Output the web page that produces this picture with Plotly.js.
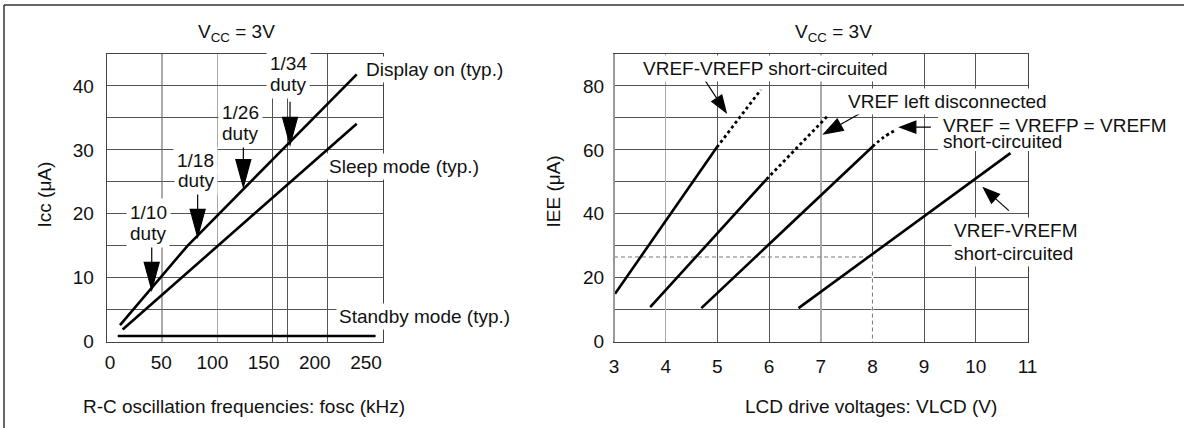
<!DOCTYPE html>
<html><head><meta charset="utf-8">
<script src="https://cdn.plot.ly/plotly-3.0.1.min.js"></script>
<style>html,body{margin:0;padding:0;background:#fff}#chart{width:1184px;height:428px}</style>
</head><body><div id="chart"></div>
<script>
// ---------- Left panel: Icc vs R-C oscillation frequency (VCC = 3V) ----------
const displayOnFosc = [12, 73, 226];
const displayOnIcc  = [2.6, 15, 41.8];
const sleepFosc = [14.4, 226];
const sleepIcc  = [1.9, 34.1];
const standbyFosc = [10, 243];
const standbyIcc  = [0.9, 0.9];
const foscTicks = [0, 50, 100, 150, 200, 250];
const iccTicks  = [0, 10, 20, 30, 40];
const dutyLabels = ['1/10', '1/18', '1/26', '1/34'];
const dutyFosc = [40.7, 82.2, 123.5, 165.7];
const dutyIcc  = [8.1, 16.4, 24.2, 30.8];

// ---------- Right panel: IEE vs LCD drive voltage (VCC = 3V) ----------
const vrefpSolidV = [3.02, 4.99];  const vrefpSolidI = [15, 60.8];
const vrefpDotV   = [4.99, 5.84];  const vrefpDotI   = [60.8, 78.8];
const discSolidV  = [3.70, 5.95];  const discSolidI  = [10.8, 50.8];
const discDotV    = [5.95, 7.15];  const discDotI    = [50.8, 70.9];
const allSolidV   = [4.69, 8.0];   const allSolidI   = [10.5, 61];
const allDotV     = [8.0, 8.22, 8.47]; const allDotI = [61, 64, 66.4];
const vrefmV      = [6.57, 10.67]; const vrefmI      = [10.5, 59];
const guideV = [3, 8, 8];          const guideI = [26.5, 26.5, 0];
const vlcdTicks = [3, 4, 5, 6, 7, 8, 9, 10, 11];
const ieeTicks  = [0, 20, 40, 60, 80];

const W = 1184, H = 428;
const FONT = 'Liberation Sans, Arial, Helvetica, sans-serif';
const GRID = '#555', LIGHT = '#aaa', AXL = '#444', TXT = '#111';
const px = x => x / W, py = y => 1 - y / H;

function line(x, y, xa, ya, extra) {
  return Object.assign({x, y, xaxis: xa, yaxis: ya, mode: 'lines', hoverinfo: 'skip',
    showlegend: false, line: {color: '#000', width: 2.6}}, extra || {});
}
const traces = [
  line(displayOnFosc, displayOnIcc, 'x', 'y'),
  line(sleepFosc, sleepIcc, 'x', 'y'),
  line(standbyFosc, standbyIcc, 'x', 'y'),
  {x: [], y: [], xaxis: 'x3', yaxis: 'y', mode: 'lines', showlegend: false},
  {x: [], y: [], xaxis: 'x4', yaxis: 'y2', mode: 'lines', showlegend: false},
  // white mask so the guide's lower vertical part shows as dashed only
  line(guideV.slice(1), guideI.slice(1), 'x2', 'y2', {line: {color: '#fff', width: 2}}),
  line(guideV, guideI, 'x2', 'y2', {line: {color: '#777', width: 1, dash: '4px,3px'}}),
  line(vrefpSolidV, vrefpSolidI, 'x2', 'y2'),
  line(vrefpDotV, vrefpDotI, 'x2', 'y2', {line: {color: '#000', width: 2.8, dash: 'dot'}}),
  line(discSolidV, discSolidI, 'x2', 'y2'),
  line(discDotV, discDotI, 'x2', 'y2', {line: {color: '#000', width: 2.8, dash: 'dot'}}),
  line(allSolidV, allSolidI, 'x2', 'y2'),
  line(allDotV, allDotI, 'x2', 'y2', {line: {color: '#000', width: 2.8, dash: 'dot', shape: 'spline'}}),
  line(vrefmV, vrefmI, 'x2', 'y2')
];

// arrow: tip at data point, direction (screen px) from tip toward tail
function arrow(xref, yref, tx, ty, dx, dy, headLen, headW, shaftLen) {
  const L = Math.hypot(dx, dy), ux = dx / L, uy = dy / L;
  const qx = -uy, qy = ux;
  const bx = ux * headLen, by = uy * headLen;
  const f = (a, b) => a.toFixed(2) + ',' + (-b).toFixed(2);
  const path = 'M0,0L' + f(bx + qx * headW / 2, by + qy * headW / 2) +
    'L' + f(bx - qx * headW / 2, by - qy * headW / 2) + 'Z' +
    'M' + f(bx, by) + 'L' + f(ux * shaftLen, uy * shaftLen);
  return {type: 'path', xref, yref, xsizemode: 'pixel', ysizemode: 'pixel',
    xanchor: tx, yanchor: ty, path, fillcolor: '#000',
    line: {color: '#000', width: 1.2}, layer: 'above'};
}

const shapes = [
  {type: 'line', xref: 'paper', yref: 'paper', x0: px(4), x1: 1, y0: py(5), y1: py(5), line: {color: '#333', width: 1.5}},
  {type: 'line', xref: 'paper', yref: 'paper', x0: px(4), x1: px(4), y0: py(5), y1: 0, line: {color: '#333', width: 1.5}},
  {type: 'line', xref: 'x2 domain', yref: 'y2 domain', x0: 0, x1: 0, y0: 0, y1: 1, line: {color: '#999', width: 2}, layer: 'above'},
  {type: 'rect', xref: 'paper', yref: 'paper', x0: px(938), x1: px(1169), y0: py(151), y1: py(114), fillcolor: '#fff', line: {width: 0}, layer: 'above'}
];
dutyFosc.forEach((xv, i) => shapes.push(arrow('x', 'y', xv, dutyIcc[i], 0, -1, 27.5, 15, 43)));
shapes.push(arrow('x2', 'y2', 5.17, 71.7, -22.7, -34.4, 17, 12, 41));
shapes.push(arrow('x2', 'y2', 7.06, 65, 36.7, -20.7, 19, 13, 42));
shapes.push(arrow('x2', 'y2', 8.53, 67.1, 1, 0, 16, 12, 31));
shapes.push(arrow('x2', 'y2', 10.15, 48.1, 25.3, 22.7, 16, 12, 34));

function txt(text, x, y, xanchor, opts) {
  return Object.assign({text, xref: 'paper', yref: 'paper', x: px(x), y: py(y), xanchor,
    yanchor: 'middle', showarrow: false, bgcolor: '#fff', borderpad: 1,
    font: {family: FONT, size: 19, color: TXT}}, opts || {});
}
const dutyPos = [[148, 212.7, 233.9], [195.7, 160, 180.4], [240, 112.7, 133.2], [288, 63.4, 84.1]];
const annotations = [
  txt('V<sub>CC</sub> = 3V', 236, 33, 'center', {bgcolor: 'rgba(0,0,0,0)'}),
  txt('V<sub>CC</sub> = 3V', 833, 33, 'center', {bgcolor: 'rgba(0,0,0,0)'}),
  txt('Display on (typ.)', 363, 70, 'left', {borderpad: 2}),
  txt('Sleep mode (typ.)', 325.7, 166.3, 'left', {borderpad: 2}),
  txt('Standby mode (typ.)', 336.3, 316, 'left', {borderpad: 2}),
  txt('Icc (μA)', 43.5, 195, 'center', {textangle: -90, bgcolor: 'rgba(0,0,0,0)'}),
  txt('IEE (μA)', 552.5, 192, 'center', {textangle: -90, bgcolor: 'rgba(0,0,0,0)'}),
  txt('R-C oscillation frequencies: fosc (kHz)', 244, 406.5, 'center', {bgcolor: 'rgba(0,0,0,0)'}),
  txt('LCD drive voltages: VLCD (V)', 871, 406.5, 'center', {bgcolor: 'rgba(0,0,0,0)'}),
  txt('VREF-VREFP short-circuited', 639.7, 68.3, 'left', {borderpad: 2}),
  txt('VREF left disconnected', 844.7, 101.7, 'left', {borderpad: 2}),
  txt('short-circuited', 941.7, 141.7, 'left', {bgcolor: 'rgba(0,0,0,0)', borderpad: 0}),
  txt('VREF = VREFP = VREFM', 941.7, 126, 'left', {bgcolor: 'rgba(0,0,0,0)', borderpad: 0}),
  txt('short-circuited', 950.7, 253.3, 'left', {borderpad: 2}),
  txt('VREF-VREFM', 950.7, 230, 'left', {borderpad: 2})
];
dutyLabels.forEach((lab, i) => {
  const p = dutyPos[i];
  annotations.push(txt('duty', p[0], p[2], 'center', {borderpad: 3}));
  annotations.push(txt(lab, p[0], p[1], 'center', {borderpad: 3}));
});

const yDom = [py(341.7), py(54)];
const axBase = {showline: true, mirror: true, linecolor: AXL, linewidth: 1, ticks: '',
  zeroline: false, showgrid: true, gridcolor: GRID, gridwidth: 1, fixedrange: true,
  automargin: false, tickfont: {family: FONT, size: 19, color: TXT}};
const layout = {
  width: W, height: H, margin: {l: 0, r: 0, t: 0, b: 0},
  paper_bgcolor: '#fff', plot_bgcolor: '#fff', showlegend: false,
  font: {family: FONT, size: 19, color: TXT},
  // grid-only axis for the left panel (data drawn on it)
  xaxis: Object.assign({}, axBase, {domain: [px(106.7), px(383.3)], anchor: 'y', range: [0, 250],
    tickmode: 'array', tickvals: [150, 163.6, 200, 250], showticklabels: false,
    minor: {tickmode: 'array', tickvals: [50, 100], showgrid: true, gridcolor: LIGHT, gridwidth: 1.5, ticks: ''}}),
  // label-only axis for the left panel (labels sit slightly off the grid, as printed)
  xaxis3: Object.assign({}, axBase, {overlaying: 'x', anchor: 'y', range: [-3.22, 266.9],
    tickmode: 'array', tickvals: foscTicks, showgrid: false, showline: false, ticklabelstandoff: 7}),
  yaxis: Object.assign({}, axBase, {domain: yDom, anchor: 'x', range: [0, 45],
    tickmode: 'array', tickvals: iccTicks, ticklabelstandoff: 8,
    minor: {dtick: 5, tick0: 0, showgrid: true, gridcolor: GRID, gridwidth: 1, ticks: ''}}),
  xaxis2: Object.assign({}, axBase, {domain: [px(614), px(1027.5)], anchor: 'y2', range: [3, 11],
    tickmode: 'array', tickvals: vlcdTicks, ticklabelstandoff: 7, showgrid: false}),
  xaxis4: Object.assign({}, axBase, {overlaying: 'x2', anchor: 'y2', range: [3, 11],
    tickmode: 'array', tickvals: [5, 6, 8, 9, 10], showticklabels: false, showline: false,
    minor: {tickmode: 'array', tickvals: [4, 7], showgrid: true, gridcolor: LIGHT, gridwidth: 1.5, ticks: ''}}),
  yaxis2: Object.assign({}, axBase, {domain: yDom, anchor: 'x2', range: [0, 90],
    tickmode: 'array', tickvals: ieeTicks, ticklabelstandoff: 5,
    minor: {dtick: 10, tick0: 0, showgrid: true, gridcolor: GRID, gridwidth: 1, ticks: ''}}),
  shapes, annotations
};
Plotly.newPlot('chart', traces, layout, {staticPlot: true, displayModeBar: false});
</script></body></html>
